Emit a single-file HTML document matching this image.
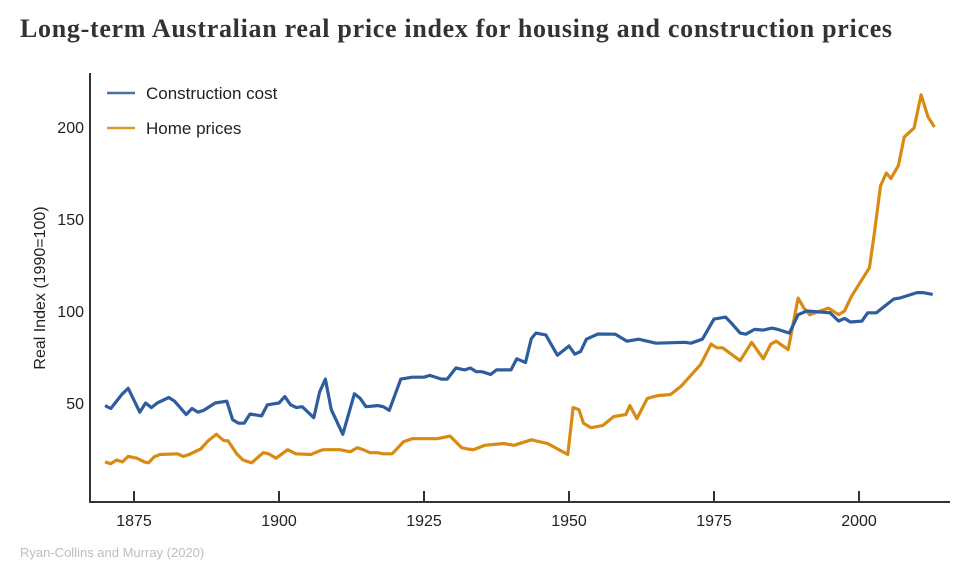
<!DOCTYPE html>
<html><head><meta charset="utf-8"><style>
body{margin:0;background:#fff;width:970px;height:566px;overflow:hidden;font-family:"Liberation Sans",sans-serif}
.title{position:absolute;left:20px;top:14px;font-family:"Liberation Serif",serif;font-weight:bold;font-size:26px;letter-spacing:0.7px;color:#333;white-space:nowrap}
.src{position:absolute;left:20px;top:545px;font-size:13px;color:#bdbdbd}
</style></head><body>
<div class="title">Long-term Australian real price index for housing and construction prices</div>
<svg id="chart" width="970" height="566" style="position:absolute;left:0;top:0"></svg>
<div class="src">Ryan-Collins and Murray (2020)</div>
<script>
const xTicks=[1875,1900,1925,1950,1975,2000];
const yTicks=[50,100,150,200];
const constYears=[1870,1871,1873,1874,1876,1877,1878,1879,1881,1882,1884,1885,1886,1887,1889,1891,1892,1893,1894,1895,1897,1898,1900,1901,1902,1903,1904,1906,1907,1908,1909,1911,1913,1914,1915,1917,1918,1919,1921,1923,1925,1926,1928,1929,1930.5,1932,1933,1934,1935,1936.5,1937.5,1940,1941,1942.5,1943.5,1944.3,1946,1948,1950,1951,1952,1953,1955,1958,1960,1962,1965,1970,1971,1973,1975,1977,1978,1979.5,1980.5,1982,1983.5,1985,1986,1988,1989.5,1991,1993,1995,1996.5,1997.5,1998.5,2000.5,2001.5,2003,2004,2006,2007,2010,2011,2012.7];
const constValues=[48.6,47,55,58,45,50,47.5,50,53,51,43.7,47,45,46,50,51,41,39,39,44,43,49,50,53.5,49,47.5,48,42,56,63,46.5,33,55,52.5,48,48.6,48,46,63,64,64,65,63,63,69,68,69,67,67,65.5,68,68,74,72,85,88,87,76,81,76.5,78,84.7,87.5,87.4,83.6,84.7,82.5,83,82.5,84.7,95.6,96.7,93.4,88,87.4,90,89.6,90.7,90,88,98,100,99.5,99,94.5,96,94,94.5,99,99,101.6,106.5,107,110,110,109];
const homeYears=[1870,1871,1872,1873,1874,1875.5,1876.8,1877.5,1878.5,1879.5,1882.5,1883.5,1884.5,1886.5,1887.8,1889.2,1890.5,1891.2,1892.7,1893.8,1895.3,1897.3,1898.2,1899.5,1901.5,1902.9,1905.5,1907,1907.7,1910.5,1912.3,1913.5,1914.5,1915.7,1916.9,1918,1919.5,1921.5,1923,1924.9,1927.3,1929.5,1931.5,1932.5,1933.5,1935.5,1938.7,1940.5,1943.5,1946.3,1949.8,1950.7,1951.7,1952.5,1953.8,1955.8,1957.7,1959.8,1960.5,1961.7,1963.5,1965.3,1967.5,1969.3,1972.7,1974.5,1975.5,1976.5,1979.5,1981.5,1983.5,1984.8,1985.7,1987.8,1989.5,1990.5,1991.5,1994.7,1996.5,1997.5,1998.7,2000.5,2001.8,2002.7,2003.7,2004.7,2005.5,2006.8,2007.8,2009.5,2010.7,2011.9,2013];
const homeValues=[18,17,19,18,21,20,18,17.5,20.8,22,22.4,21,22,25,29.5,33,29.5,29.5,22.4,19,17.5,23,22.4,20,24.6,22.4,22,24,24.6,24.6,23.5,25.7,24.6,23,23,22.4,22.4,29,30.6,30.6,30.6,32,25.7,25,24.6,27,28,27,30,28,22,47.5,46.4,39,36.6,37.7,42.6,43.7,48.6,41.5,52.5,54,54.6,59,71,82,80,80,73,83,74,82,83.6,79,107,101.6,98,101.6,98,100,108,117,123.5,143.7,168,175,172,179,194.5,199.5,217.5,205.5,200];
const NS='http://www.w3.org/2000/svg';
const svg=document.getElementById('chart');
const X=yr=>134+(yr-1875)*5.8;
const Y=v=>495-v*1.84;
function mk(tag,attrs){const e=document.createElementNS(NS,tag);for(const k in attrs)e.setAttribute(k,attrs[k]);svg.appendChild(e);return e;}
let e=mk('line',{x1:90,y1:73,x2:90,y2:502,stroke:'#333','stroke-width':2});


e=mk('line',{x1:89,y1:502,x2:950,y2:502,stroke:'#333','stroke-width':2});


xTicks.forEach(t=>{
  let l=mk('line',{x1:X(t),y1:502,x2:X(t),y2:491,stroke:'#333','stroke-width':2});
  
  
  let tx=mk('text',{x:X(t),y:526,'text-anchor':'middle','font-size':16,fill:'#222'});
  tx.textContent=t;
  
  
});
yTicks.forEach(t=>{
  let tx=mk('text',{x:84,y:Y(t)+6,'text-anchor':'end','font-size':16,fill:'#222'});
  tx.textContent=t;
  
  
});
let yl=mk('text',{x:0,y:0,transform:'translate(45,288) rotate(-90)','text-anchor':'middle','font-size':16,fill:'#222'});
yl.textContent='Real Index (1990=100)';


function series(ys,vs,color,name){
  const d=ys.map((y,i)=>(i?'L':'M')+X(y).toFixed(1)+','+Y(vs[i]).toFixed(1)).join('');
  const p=mk('path',{d:d,fill:'none',stroke:color,'stroke-width':3.2,'stroke-linejoin':'round'});
  
  
}
series(homeYears,homeValues,'#d88a12','home-prices-line');
series(constYears,constValues,'#2d5d9c','construction-cost-line');
[['Construction cost','#4d6f9f',93],['Home prices','#d99a2a',128]].forEach(([lab,c,y])=>{
  let l=mk('line',{x1:107,y1:y,x2:135,y2:y,stroke:c,'stroke-width':2.5});
  
  
  let t=mk('text',{x:146,y:y+6,'font-size':17,fill:'#222'});
  t.textContent=lab;
  
  
});
</script>
</body></html>
